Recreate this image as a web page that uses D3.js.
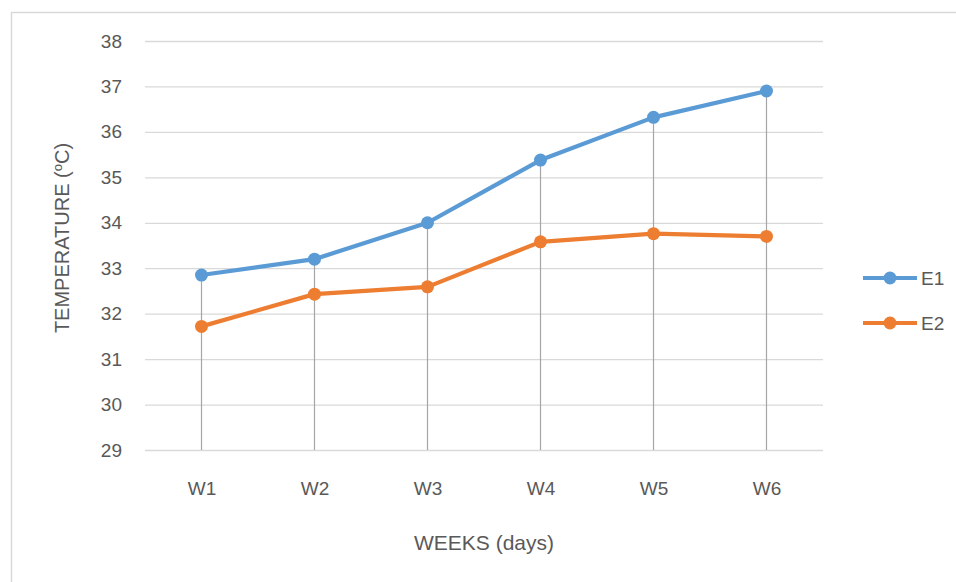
<!DOCTYPE html>
<html>
<head>
<meta charset="utf-8">
<script src="https://cdn.jsdelivr.net/npm/d3@7"></script>
<style>
  body { margin: 0; background: #fff; }
  svg { font-family: "Liberation Sans", Arial, sans-serif; }
  .tick text { fill: #595959; font-size: 19px; }
</style>
</head>
<body>
<div id="chart"></div>
<script>
const weeks = ['W1', 'W2', 'W3', 'W4', 'W5', 'W6'];
const e1Values = [32.85, 33.2, 34.0, 35.38, 36.32, 36.9];
const e2Values = [31.72, 32.43, 32.59, 33.58, 33.76, 33.7];
const seriesNames = ['E1', 'E2'];
const seriesColors = ['#5b9bd5', '#ed7d31'];
const yTicks = [29, 30, 31, 32, 33, 34, 35, 36, 37, 38];

const width = 956, height = 582;
const plot = {left: 145, right: 823, top: 41, bottom: 450};

const svg = d3.select('#chart').append('svg')
    .attr('width', width).attr('height', height);

// outer chart border
svg.append('rect')
    .attr('x', 11.5).attr('y', 12.5)
    .attr('width', 1000).attr('height', 1000)
    .attr('fill', 'none').attr('stroke', '#d9d9d9').attr('stroke-width', 1.5);

const x = d3.scalePoint().domain(weeks)
    .range([plot.left, plot.right]).padding(0.5);
const y = d3.scaleLinear().domain([29, 38])
    .range([plot.bottom, plot.top]);

// gridlines + y labels
const yAxis = svg.append('g')
    .attr('transform', `translate(${plot.left},0)`)
    .call(d3.axisLeft(y).tickValues(yTicks).tickSize(-(plot.right - plot.left)).tickPadding(23));
yAxis.select('.domain').remove();
yAxis.selectAll('.tick line').attr('stroke', '#d9d9d9').attr('stroke-width', 1.3);

// x labels
const xAxis = svg.append('g')
    .attr('transform', `translate(0,${plot.bottom})`)
    .call(d3.axisBottom(x).tickSize(0).tickPadding(32));
xAxis.select('.domain').remove();

const series = [e1Values, e2Values].map((vals, i) => ({
    name: seriesNames[i], color: seriesColors[i],
    points: weeks.map((w, j) => [w, vals[j]])
}));

// drop lines from highest point to axis
svg.append('g').selectAll('line')
    .data(weeks.map((w, j) => [w, d3.max(series, s => s.points[j][1])]))
    .enter().append('line')
    .attr('x1', d => x(d[0])).attr('x2', d => x(d[0]))
    .attr('y1', d => y(d[1])).attr('y2', y(29))
    .attr('stroke', '#a6a6a6').attr('stroke-width', 1.2);

const line = d3.line().x(d => x(d[0])).y(d => y(d[1]));

series.forEach(s => {
    svg.append('path').datum(s.points)
        .attr('d', line).attr('fill', 'none')
        .attr('stroke', s.color).attr('stroke-width', 4.2)
        .attr('stroke-linejoin', 'round');
    svg.append('g').selectAll('circle')
        .data(s.points).enter().append('circle')
        .attr('cx', d => x(d[0])).attr('cy', d => y(d[1]))
        .attr('r', 6.5).attr('fill', s.color);
});

// axis titles
svg.append('text')
    .attr('x', (plot.left + plot.right) / 2).attr('y', 550)
    .attr('text-anchor', 'middle').attr('fill', '#595959')
    .style('font-size', '21px').text('WEEKS (days)');

const yTitle = svg.append('text')
    .attr('transform', 'translate(69,238) rotate(-90)')
    .attr('text-anchor', 'middle').attr('fill', '#595959')
    .style('font-size', '20px');
yTitle.append('tspan').text('TEMPERATURE (');
yTitle.append('tspan').attr('dy', -7).style('font-size', '13px').text('o');
yTitle.append('tspan').attr('dy', 7).text('C)');

// legend
const legend = svg.selectAll('.legend')
    .data(series).enter().append('g')
    .attr('class', 'legend')
    .attr('transform', (d, i) => `translate(0,${278 + i * 45})`);
legend.append('line')
    .attr('x1', 863).attr('x2', 917)
    .attr('stroke', d => d.color).attr('stroke-width', 4.2);
legend.append('circle')
    .attr('cx', 890).attr('r', 6.5).attr('fill', d => d.color);
legend.append('text')
    .attr('x', 921).attr('y', 7)
    .attr('fill', '#595959').style('font-size', '19px')
    .text(d => d.name);
</script>
</body>
</html>
